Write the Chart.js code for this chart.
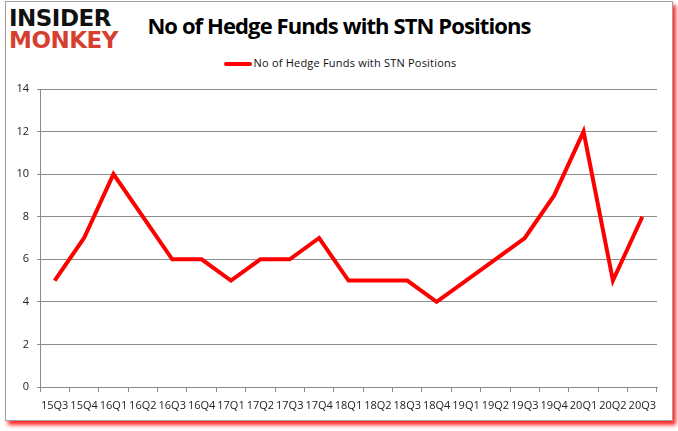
<!DOCTYPE html>
<html>
<head>
<meta charset="utf-8">
<script src="https://cdn.jsdelivr.net/npm/chart.js@4"></script>
<style>
  body { margin: 0; background: #fff; }
  #wrap { position: relative; width: 678px; height: 431px; overflow: hidden; }
  #frame {
    position: absolute; left: 5px; top: 1px; width: 666px; height: 418px;
    border: 1px solid #a0a0a0; box-shadow: 3px 4px 4px rgba(255, 0, 0, 0.85);
  }
  .logo { position: absolute; left: 9px; font-family: "DejaVu Sans", sans-serif; font-weight: bold;
    font-size: 23px; line-height: 23px; letter-spacing: -0.5px; white-space: nowrap; }
  #logo1 { top: 7px; color: #111; }
  #logo2 { top: 29px; color: #d63f2f; }
  #title { position: absolute; left: 0; width: 678px; top: 14px; text-align: center; line-height: 22px;
    font-family: "Open Sans", sans-serif; font-weight: bold; font-size: 22px; color: #000; letter-spacing: -0.9px; }
  #legend { position: absolute; left: 0; width: 680px; top: 57px; text-align: center; line-height: 11px;
    font-family: "Open Sans", sans-serif; font-size: 11px; color: #111; letter-spacing: 0.2px; white-space: nowrap; }
  #legend span.sw { display: inline-block; width: 28px; height: 4px; background: #ff0000; border-radius: 2px;
    vertical-align: 1.5px; margin-right: 2px; }
  canvas { position: absolute; left: 0; top: 0; }
</style>
</head>
<body>
<div id="wrap">
  <div id="frame"></div>
  <div class="logo" id="logo1">INSIDER</div>
  <div class="logo" id="logo2">MONKEY</div>
  <div id="title">No of Hedge Funds with STN Positions</div>
  <div id="legend"><span class="sw"></span>No of Hedge Funds with STN Positions</div>
  <canvas id="chart" width="678" height="431"></canvas>
</div>
<script>
const quarters = ['15Q3', '15Q4', '16Q1', '16Q2', '16Q3', '16Q4', '17Q1', '17Q2', '17Q3', '17Q4',
  '18Q1', '18Q2', '18Q3', '18Q4', '19Q1', '19Q2', '19Q3', '19Q4', '20Q1', '20Q2', '20Q3'];
const fundCounts = [5, 7, 10, 8, 6, 6, 5, 6, 6, 7, 5, 5, 5, 4, 5, 6, 7, 9, 12, 5, 8];
const yTicks = [0, 2, 4, 6, 8, 10, 12, 14];

var ctx = document.getElementById('chart');
new Chart(ctx, {
  type: 'line',
  data: {
    labels: quarters,
    datasets: [{
      label: 'No of Hedge Funds with STN Positions',
      data: fundCounts,
      borderColor: 'rgb(255, 0, 0)',
      backgroundColor: 'rgb(255, 0, 0)',
      borderWidth: 4,
      pointRadius: 0,
      tension: 0,
      fill: false
    }]
  },
  options: {
    responsive: false,
    animation: false,
    layout: { padding: { top: 89, right: 21, left: 4, bottom: 0 } },
    plugins: {
      legend: { display: false },
      title: { display: false },
      tooltip: { enabled: false }
    },
    scales: {
      x: {
        offset: true,
        afterFit: (s) => { s.height = 44; },
        grid: {
          offset: true,
          drawOnChartArea: false,
          tickLength: 5,
          color: '#8c8c8c'
        },
        border: { color: '#8c8c8c' },
        ticks: {
          autoSkip: false,
          maxRotation: 0,
          minRotation: 0,
          padding: 7,
          color: '#222',
          font: { family: 'Open Sans', size: 11 }
        }
      },
      y: {
        min: yTicks[0],
        max: yTicks[yTicks.length - 1],
        afterFit: (s) => { s.width = 36; },
        afterBuildTicks: (s) => { s.ticks = yTicks.map(v => ({ value: v })); },
        grid: {
          color: '#8c8c8c',
          tickLength: 3
        },
        border: { color: '#8c8c8c' },
        ticks: {
          padding: 8,
          color: '#222',
          font: { family: 'Open Sans', size: 11 }
        }
      }
    }
  }
});
</script>
</body>
</html>
